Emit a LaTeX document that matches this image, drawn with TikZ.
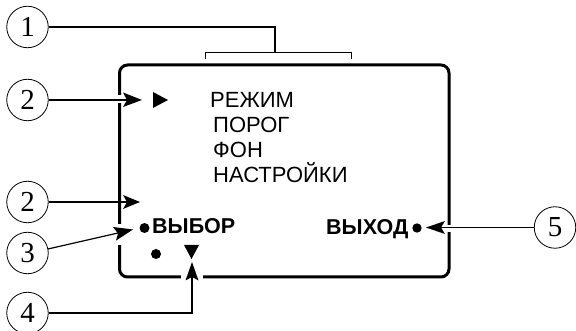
\documentclass[tikz,border=0pt]{standalone}
\usepackage{fontspec}
\setmainfont{Liberation Sans}
\newfontfamily\numfont{Liberation Serif}
\tikzset{
  callout/.style={circle,draw,line width=0.8pt,minimum size=41.5pt,inner sep=0pt,font=\numfont\fontsize{29}{29}\selectfont},
  leader/.style={line width=1.2pt},
  headtri/.style={fill=black,draw=none},
  menu/.style={anchor=base west,inner sep=0pt,font=\fontsize{22}{22}\selectfont},
  softkey/.style={anchor=base west,inner sep=0pt,font=\bfseries\fontsize{21.5}{21.5}\selectfont},
  gap/.style={white,line width=4.5pt}
}
\begin{document}
\begin{tikzpicture}[x=1pt,y=-1pt]
\useasboundingbox (0,0) rectangle (576,331);
% screen
\draw[line width=3pt,rounded corners=8pt] (119.5,65) rectangle (449,277);
\draw[gap] (119.5,95) -- (119.5,103);
\draw[gap] (119.5,224) -- (119.5,245);
\draw[gap] (181,277) -- (203,277);
\draw[gap] (449,225) -- (449,232);
% bracket
\coordinate (brL) at (205,59);
\coordinate (brLt) at (205,52.5);
\coordinate (brR) at (351,59);
\coordinate (brRt) at (351,52.5);
\coordinate (brM) at (275,52.5);
\draw[line width=1pt] (brL) -- (brLt) -- (brRt) -- (brR);
% callouts
\node[callout] (c1) at (27.5,27) {1};
\node[callout] (c2a) at (27.5,100) {2};
\node[callout] (c2b) at (27.5,202) {2};
\node[callout] (c3) at (27.5,253) {3};
\node[callout] (c4) at (27.5,313) {4};
\node[callout] (c5) at (555,227.5) {5};
% free ends
\coordinate (t2a) at (142,100);
\coordinate (t2b) at (140,202);
\coordinate (t3) at (133,229.5);
\coordinate (t4) at (192,262);
\coordinate (t5) at (426,227.5);
% leaders
\draw[leader] (c1.east) -- (brM |- c1.east) -- (brM);
\draw[leader] (c2a.east) -- (130,100);
\draw[leader] (c2b.east) -- (130,202);
\draw[leader] (c3) ++(20.4,-4) coordinate (s3) -- (118,233);
\draw[leader] (c4.east) -- (t4 |- c4.east) -- (192,276);
\draw[leader] (c5.west) -- (440,227.5);
% arrow heads
\fill[headtri] (t2a) -- (123,92.5) -- (127,100) -- (123,107) -- cycle;
\fill[headtri] (t2b) -- (123,195) -- (127,202) -- (123,209) -- cycle;
\fill[headtri] (t3) -- (113,227) -- (118,233.5) -- (116,240.6) -- cycle;
\fill[headtri] (t4) -- (185.5,280.5) -- (192,277) -- (198.5,280.5) -- cycle;
\fill[headtri] (t5) -- (445,221) -- (441,227.5) -- (445,234) -- cycle;
% screen marks
\fill (153,92) -- (168,100) -- (153,108) -- cycle;
\fill (184,245) -- (199,245) -- (191.5,259) -- cycle;
\fill (144.5,228) circle (5pt);
\fill (156,254) circle (5pt);
\fill (417,228) circle (4.7pt);
% texts
\node[menu] (m1) at (210,108) {РЕЖИМ};
\node[menu] (m2) at (213,133) {ПОРОГ};
\node[menu] (m3) at (213,158) {ФОН};
\node[menu] (m4) at (213,183) {НАСТРОЙКИ};
\node[softkey] (k1) at (152,234) {ВЫБОР};
\node[softkey] (k2) at (326,234.5) {ВЫХОД};
\end{tikzpicture}
\end{document}
